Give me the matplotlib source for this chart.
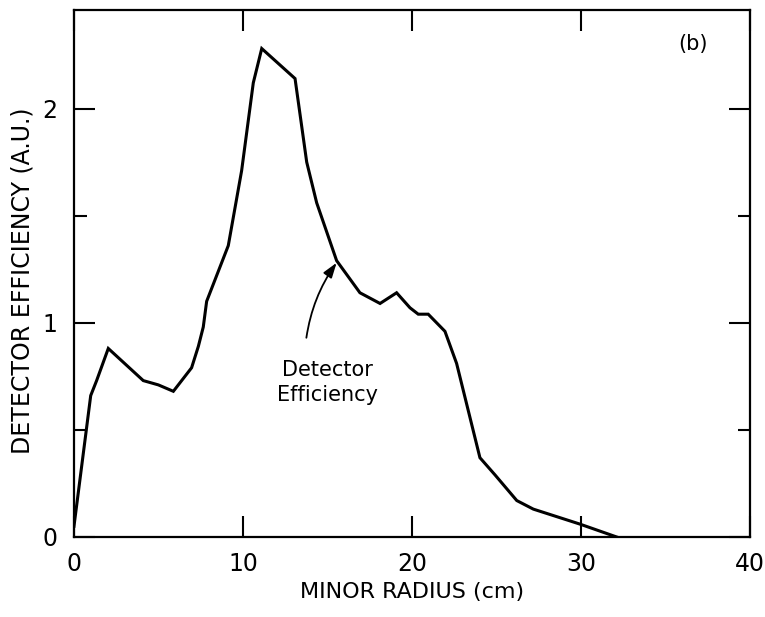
import matplotlib

matplotlib.use("Agg")
import matplotlib.pyplot as plt  # noqa: E402
from matplotlib.ticker import FixedLocator  # noqa: E402

# detector efficiency profile vs minor radius
radius_cm = [0.0, 0.99, 1.34, 2.03, 4.10, 4.99, 5.88, 6.96, 7.36, 7.65, 7.85,
             9.13, 9.92, 10.61, 11.11, 13.08, 13.77, 14.36, 15.54, 16.92,
             18.11, 19.09, 19.88, 20.37, 20.96, 21.95, 22.64, 24.02, 24.91,
             26.20, 27.18, 29.94, 32.11]
efficiency = [0.05, 0.66, 0.73, 0.88, 0.73, 0.71, 0.68, 0.79, 0.89, 0.98, 1.10,
              1.36, 1.71, 2.12, 2.28, 2.14, 1.75, 1.56, 1.29, 1.14,
              1.09, 1.14, 1.07, 1.04, 1.04, 0.96, 0.81, 0.37, 0.29,
              0.17, 0.13, 0.06, 0.0]

x_ticks = [0, 10, 20, 30, 40]
y_major = [0, 1, 2]
y_minor = [0.5, 1.5]
arrow_tip = (15.54, 1.28)
arrow_tail = (13.75, 0.93)

plt.rcParams["font.family"] = "DejaVu Sans"

fig = plt.figure(figsize=(7.65, 6.17), dpi=100)
ax = fig.add_axes([0.0967, 0.1297, 0.8837, 0.8541])

ax.plot(radius_cm, efficiency, color="black", lw=2.2, solid_joinstyle="miter")

ax.set_xlim(0, 40)
ax.set_ylim(0, 2.46)
ax.xaxis.set_major_locator(FixedLocator(x_ticks))
ax.yaxis.set_major_locator(FixedLocator(y_major))
ax.yaxis.set_minor_locator(FixedLocator(y_minor))
ax.set_xticklabels([str(v) for v in x_ticks])
ax.set_yticklabels([str(v) for v in y_major])

ax.tick_params(which="both", direction="in", top=True, right=True,
               width=1.5, color="black", labelsize=17)
ax.tick_params(which="major", length=15)
ax.tick_params(which="minor", length=9)
ax.tick_params(axis="x", pad=11)
ax.tick_params(axis="y", pad=12)
for sp in ax.spines.values():
    sp.set_linewidth(1.6)

ax.set_xlabel("MINOR RADIUS (cm)", fontsize=16)
ax.set_ylabel("DETECTOR EFFICIENCY (A.U.)", fontsize=17)
ax.xaxis.set_label_coords(0.5, -0.085)
ax.yaxis.set_label_coords(-0.058, 0.486)

ax.text(36.6, 2.30, "(b)", fontsize=15, ha="center", va="center")
ax.annotate("", xy=arrow_tip, xytext=arrow_tail,
            arrowprops=dict(arrowstyle="-|>,head_length=0.9,head_width=0.3",
                            color="black", lw=1.3,
                            connectionstyle="arc3,rad=-0.12",
                            shrinkA=0, shrinkB=0))
ax.text(15.0, 0.72, "Detector\nEfficiency", fontsize=15, ha="center",
        va="center", linespacing=1.3)

fig.savefig("out.png", dpi=100)
